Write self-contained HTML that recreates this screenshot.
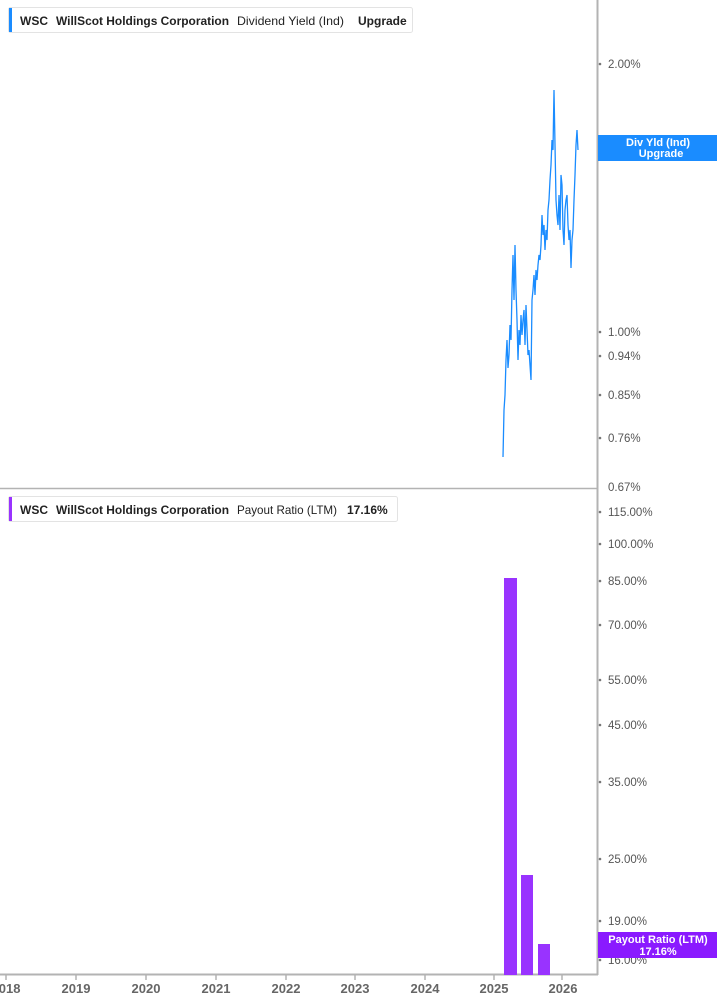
<!DOCTYPE html><html><head><style>body{margin:0;background:#fff;font-family:"Liberation Sans",sans-serif}</style></head><body>
<svg width="717" height="1005" xmlns="http://www.w3.org/2000/svg" style="display:block">
<g font-family="Liberation Sans,sans-serif">
<line x1="597.5" y1="0" x2="597.5" y2="975" stroke="#b3b3b3" stroke-width="2"/>
<line x1="0" y1="488.5" x2="597" y2="488.5" stroke="#b3b3b3" stroke-width="1.5"/>
<line x1="0" y1="974.5" x2="598" y2="974.5" stroke="#b3b3b3" stroke-width="2"/>
<g font-size="11.5" fill="#555">
<text x="608" y="68">2.00%</text><text x="608" y="336">1.00%</text><text x="608" y="360">0.94%</text><text x="608" y="399">0.85%</text><text x="608" y="442">0.76%</text><text x="608" y="491">0.67%</text>
<text x="608" y="516">115.00%</text><text x="608" y="548">100.00%</text><text x="608" y="585">85.00%</text><text x="608" y="629">70.00%</text><text x="608" y="684">55.00%</text><text x="608" y="729">45.00%</text><text x="608" y="786">35.00%</text><text x="608" y="863">25.00%</text><text x="608" y="925">19.00%</text><text x="608" y="964">16.00%</text>
</g>
<g fill="#777"><circle cx="600" cy="64" r="1.3"/><circle cx="600" cy="332" r="1.3"/><circle cx="600" cy="356" r="1.3"/><circle cx="600" cy="395" r="1.3"/><circle cx="600" cy="438" r="1.3"/><circle cx="600" cy="512" r="1.3"/><circle cx="600" cy="544" r="1.3"/><circle cx="600" cy="581" r="1.3"/><circle cx="600" cy="625" r="1.3"/><circle cx="600" cy="680" r="1.3"/><circle cx="600" cy="725" r="1.3"/><circle cx="600" cy="782" r="1.3"/><circle cx="600" cy="859" r="1.3"/><circle cx="600" cy="921" r="1.3"/><circle cx="600" cy="960" r="1.3"/></g>
<g stroke="#b3b3b3" stroke-width="1.5"><line x1="6" y1="975" x2="6" y2="980"/><line x1="76" y1="975" x2="76" y2="980"/><line x1="146" y1="975" x2="146" y2="980"/><line x1="216" y1="975" x2="216" y2="980"/><line x1="286" y1="975" x2="286" y2="980"/><line x1="355" y1="975" x2="355" y2="980"/><line x1="425" y1="975" x2="425" y2="980"/><line x1="494" y1="975" x2="494" y2="980"/><line x1="562" y1="975" x2="562" y2="980"/></g>
<g font-size="13" font-weight="bold" fill="#666" text-anchor="middle"><text x="6" y="993">2018</text><text x="76" y="993">2019</text><text x="146" y="993">2020</text><text x="216" y="993">2021</text><text x="286" y="993">2022</text><text x="355" y="993">2023</text><text x="425" y="993">2024</text><text x="494" y="993">2025</text><text x="563" y="993">2026</text></g>
<polyline fill="none" stroke="#1a8cff" stroke-width="1.3" points="503,457 504,410 505,395 506,360 507,340 508,368 509,355 510,325 511,340 512,290 513,255 514,300 515,245 516,290 517,320 518,360 519,330 520,345 521,315 522,335 523,320 524,310 525,345 526,305 527,330 528,355 529,350 530,365 531,380 532,300 533,290 534,275 535,295 536,270 537,280 538,265 539,255 540,260 541,245 542,215 543,235 544,225 545,250 546,230 547,240 548,210 549,200 550,180 551,165 552,140 553,150 554,90 555,145 556,200 557,215 558,225 559,195 560,230 561,175 562,185 563,230 564,245 565,210 566,200 567,195 568,225 569,240 570,230 571,268 572,240 573,230 574,200 575,175 576,145 577,130 578,150"/>
<rect x="504" y="578" width="13" height="397" fill="#9933ff"/>
<rect x="521" y="875" width="12" height="100" fill="#9933ff"/>
<rect x="538" y="944" width="12" height="31" fill="#9933ff"/>
<rect x="598" y="135" width="119" height="26" fill="#1a8cff"/>
<text x="658" y="146" font-size="11" font-weight="bold" fill="#fff" text-anchor="middle">Div Yld (Ind)</text>
<text x="661" y="157" font-size="11" font-weight="bold" fill="#fff" text-anchor="middle">Upgrade</text>
<rect x="598" y="932" width="119" height="26" fill="#8a1aff"/>
<text x="658" y="943" font-size="11" font-weight="bold" fill="#fff" text-anchor="middle">Payout Ratio (LTM)</text>
<text x="658" y="955" font-size="11" font-weight="bold" fill="#fff" text-anchor="middle">17.16%</text>
<rect x="8.5" y="7.5" width="404" height="25" fill="#fff" stroke="#e3e3e3" rx="2"/>
<rect x="9" y="8" width="3" height="24" fill="#1a8cff"/>
<g font-size="12" fill="#222">
<text x="20" y="25" font-weight="bold">WSC</text>
<text x="56" y="25" font-weight="bold" textLength="173" lengthAdjust="spacingAndGlyphs">WillScot Holdings Corporation</text>
<text x="237" y="25" textLength="107" lengthAdjust="spacingAndGlyphs">Dividend Yield (Ind)</text>
<text x="358" y="25" font-weight="bold">Upgrade</text>
</g>
<rect x="8.5" y="496.5" width="389" height="25" fill="#fff" stroke="#e3e3e3" rx="2"/>
<rect x="9" y="497" width="3" height="24" fill="#9933ff"/>
<g font-size="12" fill="#222">
<text x="20" y="514" font-weight="bold">WSC</text>
<text x="56" y="514" font-weight="bold" textLength="173" lengthAdjust="spacingAndGlyphs">WillScot Holdings Corporation</text>
<text x="237" y="514" textLength="100" lengthAdjust="spacingAndGlyphs">Payout Ratio (LTM)</text>
<text x="347" y="514" font-weight="bold">17.16%</text>
</g>
</g></svg></body></html>
